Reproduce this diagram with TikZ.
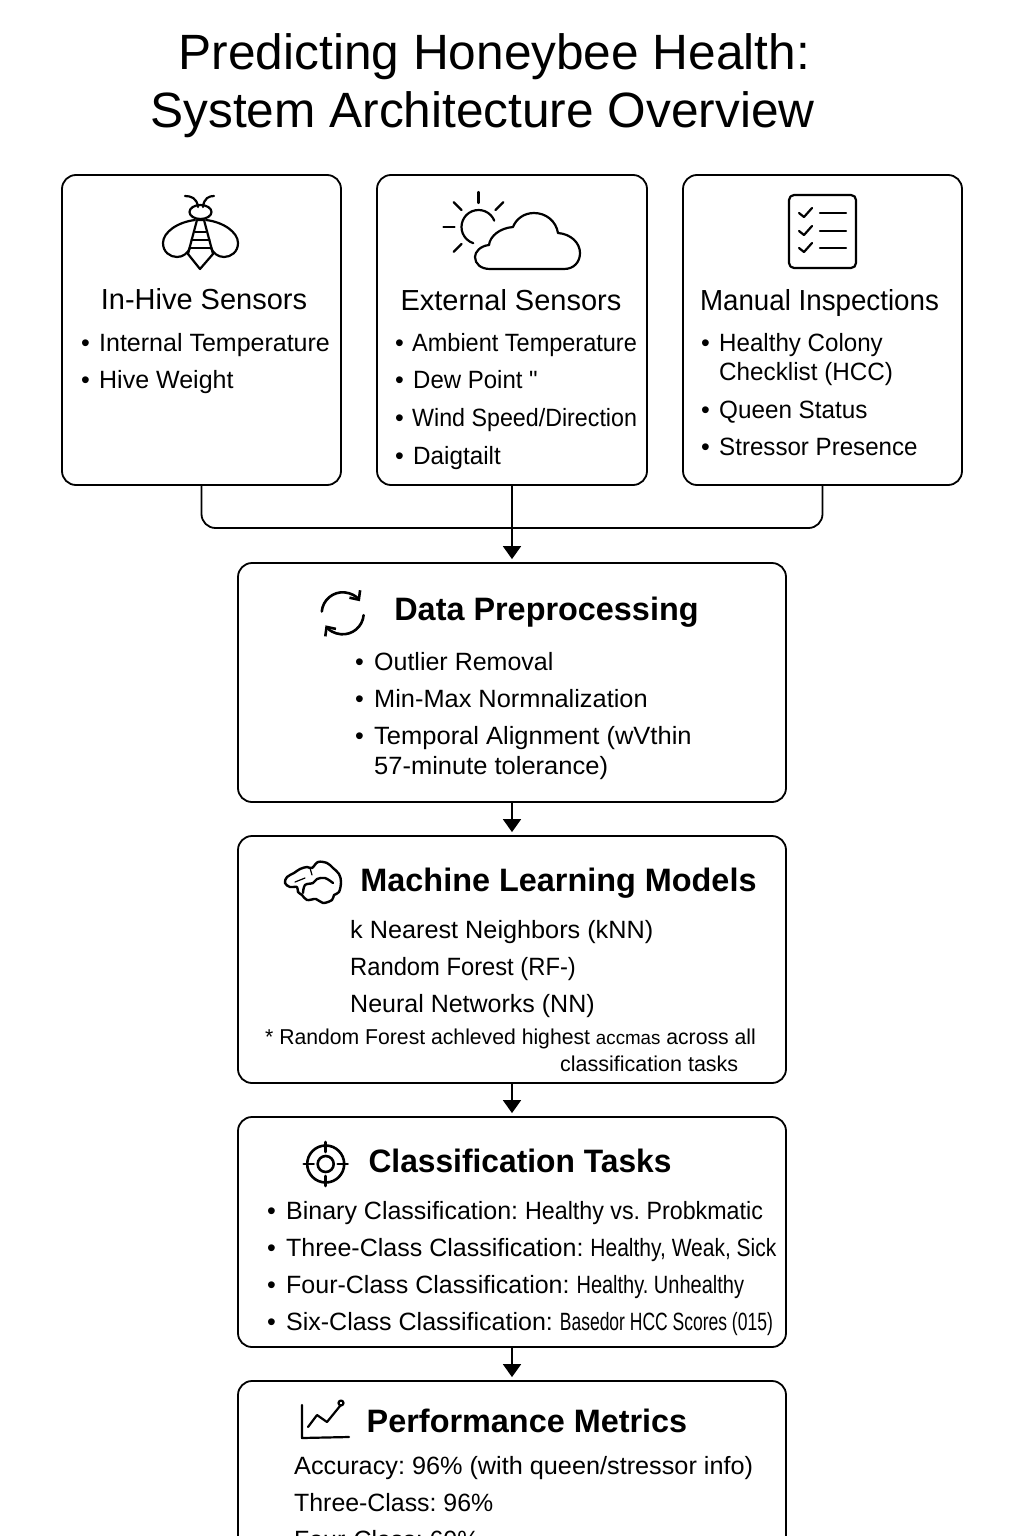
\documentclass[tikz,border=0pt]{standalone}
\usepackage{graphicx}
\usepackage{fontspec}
\setmainfont{Liberation Sans}
\usetikzlibrary{arrows.meta}
\frenchspacing
\tikzset{
  card/.style={draw=black, line width=1.8pt, rounded corners=14pt, fill=white, inner sep=0pt},
  wire/.style={draw=black, line width=1.8pt},
  flow/.style={wire, -{Triangle[width=18pt,length=13pt]}, shorten >=3pt},
  iconline/.style={draw=black, line width=2.2pt, line cap=round, line join=round},
  titletext/.style={anchor=base, inner sep=0pt, font=\fontsize{49.6}{49.6}\selectfont},
  headtext/.style={anchor=base, inner sep=0pt, font=\fontsize{29}{29}\selectfont},
  headbold/.style={anchor=base, inner sep=0pt, font=\fontsize{32.4}{32.4}\selectfont\bfseries},
  itemtext/.style={anchor=base west, inner sep=0pt, font=\fontsize{25}{25}\selectfont},
  smalltext/.style={anchor=base west, inner sep=0pt, font=\fontsize{21.5}{21.5}\selectfont},
}
\newcommand{\bul}[1]{\makebox[#1pt][l]{\textbullet}}
\newcommand{\sqz}[2]{\scalebox{#1}[1]{#2}}
\begin{document}
\begin{tikzpicture}[x=1pt,y=1pt]
  \clip (0,-1536) rectangle (1024,0);
  \fill[white] (0,-1536) rectangle (1024,0);
  % title
  \node[titletext] (title1) at (494.5,-70) {Predicting Honeybee Health:};
  \node[titletext] (title2) at (482.5,-128) {System Architecture Overview};
  % source boxes
  \node[card, minimum width=279pt, minimum height=310pt] (inhive) at (201.5,-330) {};
  \node[card, minimum width=270pt, minimum height=310pt] (external) at (512,-330) {};
  \node[card, minimum width=279pt, minimum height=310pt] (manual) at (822.5,-330) {};
  % pipeline boxes
  \node[card, minimum width=548pt, minimum height=239pt] (prep) at (512,-682.5) {};
  \node[card, minimum width=548pt, minimum height=247pt] (models) at (512,-959.5) {};
  \node[card, minimum width=548pt, minimum height=230pt] (tasks) at (512,-1232) {};
  \node[card, minimum width=548pt, minimum height=300pt] (metrics) at (512,-1531) {};
  % connectors
  \coordinate (merge) at (512,-528);
  \draw[wire, rounded corners=14pt] (inhive.south) |- (merge) -| (manual.south);
  \draw[flow] (external.south) -- (prep.north);
  \draw[flow] (prep.south) -- (models.north);
  \draw[flow] (models.south) -- (tasks.north);
  \draw[flow] (tasks.south) -- (metrics.north);
  % in-hive text
  \node[headtext] (inhivehead) at (204,-309) {In-Hive Sensors};
  \node[itemtext] (inhive1) at (81,-351) {\bul{18}Internal Temperature};
  \node[itemtext] (inhive2) at (81,-388) {\bul{18}Hive Weight};
  % external text
  \node[headtext] (exthead) at (511,-310) {External Sensors};
  \node[itemtext] (ext1) at (395,-351) {\bul{17}\sqz{0.94}{Ambient Temperature}};
  \node[itemtext] (ext2) at (395,-388) {\bul{18}\sqz{0.96}{Dew Point ʺ}};
  \node[itemtext] (ext3) at (395,-426) {\bul{17}\sqz{0.93}{Wind Speed/Direction}};
  \node[itemtext] (ext4) at (395,-464) {\bul{18}\sqz{0.97}{Daigtailt}};
  % manual text
  \node[headtext] (manhead) at (819.5,-310) {\sqz{0.956}{Manual Inspections}};
  \node[itemtext] (man1) at (701,-351) {\bul{18}\sqz{0.965}{Healthy Colony}};
  \node[itemtext] (man2) at (719,-380) {\sqz{0.97}{Checklist (HCC)}};
  \node[itemtext] (man3) at (701,-418) {\bul{18}\sqz{0.97}{Queen Status}};
  \node[itemtext] (man4) at (701,-455) {\bul{18}\sqz{0.965}{Stressor Presence}};
  % preprocessing text
  \node[headbold] (prephead) at (546.5,-620) {Data Preprocessing};
  \node[itemtext] (prep1) at (355,-670) {\bul{19}Outlier Removal};
  \node[itemtext] (prep2) at (355,-707) {\bul{19}\sqz{1.015}{Min-Max Normnalization}};
  \node[itemtext] (prep3) at (355,-744) {\bul{19}\sqz{1.02}{Temporal Alignment (wVthin}};
  \node[itemtext] (prep4) at (374,-774) {\sqz{1.02}{57-minute tolerance)}};
  % models text
  \node[headbold] (modhead) at (558.5,-891) {Machine Learning Models};
  \node[itemtext] (mod1) at (350,-938) {\sqz{1.01}{k Nearest Neighbors (kNN)}};
  \node[itemtext] (mod2) at (350,-975) {\sqz{0.95}{Random Forest (RF-)}};
  \node[itemtext] (mod3) at (350,-1012) {Neural Networks (NN)};
  \node[smalltext] (modnote1) at (265,-1044) {\sqz{0.985}{* Random Forest achleved highest {\fontsize{19}{19}\selectfont accmas} across all}};
  \node[smalltext] (modnote2) at (560,-1071) {classification tasks};
  % tasks text
  \node[headbold] (taskhead) at (520,-1172) {\sqz{0.98}{Classification Tasks}};
  \node[itemtext] (task1) at (267,-1219) {\bul{19}Binary Classification: \sqz{0.93}{Healthy vs. Probkmatic}};
  \node[itemtext] (task2) at (267,-1256) {\bul{19}Three-Class Classification: \sqz{0.84}{Healthy, Weak, Sick}};
  \node[itemtext] (task3) at (267,-1293) {\bul{19}Four-Class Classification: \sqz{0.8}{Healthy. Unhealthy}};
  \node[itemtext] (task4) at (267,-1330) {\bul{19}Six-Class Classification: \sqz{0.7}{Basedor HCC Scores (015)}};
  % metrics text
  \node[headbold] (methead) at (527,-1432) {Performance Metrics};
  \node[itemtext] (met1) at (294,-1474) {\sqz{1.01}{Accuracy: 96\% (with queen/stressor info)}};
  \node[itemtext] (met2) at (294,-1511) {\sqz{0.995}{Three-Class: 96\%}};
  \node[itemtext] (met3) at (294,-1548) {\sqz{0.995}{Four-Class: 60\%}};
  % bee icon
  \draw[iconline] (198,-207) .. controls (197,-198) and (191,-196) .. (185,-196);
  \draw[iconline] (203,-207) .. controls (204,-198) and (209,-196) .. (214,-196);
  \draw[iconline] (200.5,-212) ellipse (11 and 7);
  \draw[iconline] (195,-220) .. controls (178,-222) and (163,-232) .. (163,-243)
    .. controls (163,-252) and (170,-257) .. (177,-257) .. controls (183,-257) and (188,-253) .. (190,-248);
  \draw[iconline] (206,-220) .. controls (223,-222) and (238,-232) .. (238,-243)
    .. controls (238,-252) and (231,-257) .. (224,-257) .. controls (218,-257) and (213,-253) .. (211,-248);
  \draw[iconline] (197,-220) -- (189,-250) -- (188,-254) -- (200,-269) -- (213,-254) -- (212,-250) -- (204,-220) -- cycle;
  \foreach \y/\w in {232/5, 240/9, 248/11} {
    \draw[iconline] (200.5-\w,-\y) -- (200.5+\w,-\y);
  }
  % sun and cloud icon
  \draw[iconline] (478.5,-227) ++(22:17) arc[start angle=22, end angle=252, radius=17];
  \foreach \a in {45, 90, 135, 180, 225} {
    \draw[iconline] (478.5,-227) ++(\a:24) -- ++(\a:11);
  }
  \draw[iconline] (490,-269) -- (564,-269) .. controls (574,-269) and (580,-262) .. (580,-253)
    .. controls (580,-243) and (571,-234) .. (558,-233) .. controls (556,-221) and (546,-213) .. (534,-213)
    .. controls (524,-213) and (516,-219) .. (513,-227) .. controls (500,-228) and (490,-236) .. (489,-245)
    .. controls (480,-246) and (475,-252) .. (475,-257) .. controls (475,-264) and (481,-269) .. (490,-269);
  % checklist icon
  \draw[iconline, rounded corners=5pt] (789,-195) rectangle (856,-268);
  \foreach \y in {213, 231, 248} {
    \draw[iconline] (799,-\y) -- (804,-\y-4) -- (812,-\y+5);
    \draw[iconline] (820,-\y) -- (846,-\y);
  }
  % refresh icon
  \draw[iconline, line width=2.6pt, -{Straight Barb[width=13pt,length=7pt]}] (342.7,-613.3) ++(175:21) arc[start angle=175, end angle=35, radius=21];
  \draw[iconline, line width=2.6pt, -{Straight Barb[width=13pt,length=7pt]}] (342.7,-613.3) ++(-5:21) arc[start angle=-5, end angle=-145, radius=21];
  % brain icon
  \draw[iconline, line width=2.4pt] plot[smooth cycle, tension=0.6] coordinates {(285,-883) (287,-877) (294,-873) (300,-869) (307,-867) (312,-868) (318,-862) (327,-863) (333,-868) (339,-874) (341,-882) (339,-892) (334,-895) (332,-900) (323,-903) (316,-899) (307,-900) (302,-895) (298,-892) (297,-887) (290,-887)};
  \draw[iconline, line width=2.4pt] plot[smooth, tension=0.6] coordinates {(303,-893) (305,-885) (313,-883) (317,-879) (325,-878) (333,-883)};
  \draw[iconline, line width=1.2pt] (310,-868) -- (312,-875);
  \draw[iconline, line width=1.2pt] (295,-882) -- (305,-878);
  % target icon
  \draw[iconline, line width=2.6pt] (325.7,-1164) circle (18.5);
  \draw[iconline, line width=2.6pt] (325.7,-1164) circle (8);
  \foreach \a in {0, 90, 180, 270} {
    \draw[iconline, line width=2.6pt] (325.7,-1164) ++(\a:12) -- ++(\a:10);
  }
  % chart icon
  \draw[iconline] (302,-1405) -- (302,-1438) -- (349,-1437);
  \draw[iconline] (308,-1427) -- (317,-1415) -- (327,-1422) -- (340,-1406);
  \draw[iconline] (341,-1403) circle (2.5);
\end{tikzpicture}
\end{document}
